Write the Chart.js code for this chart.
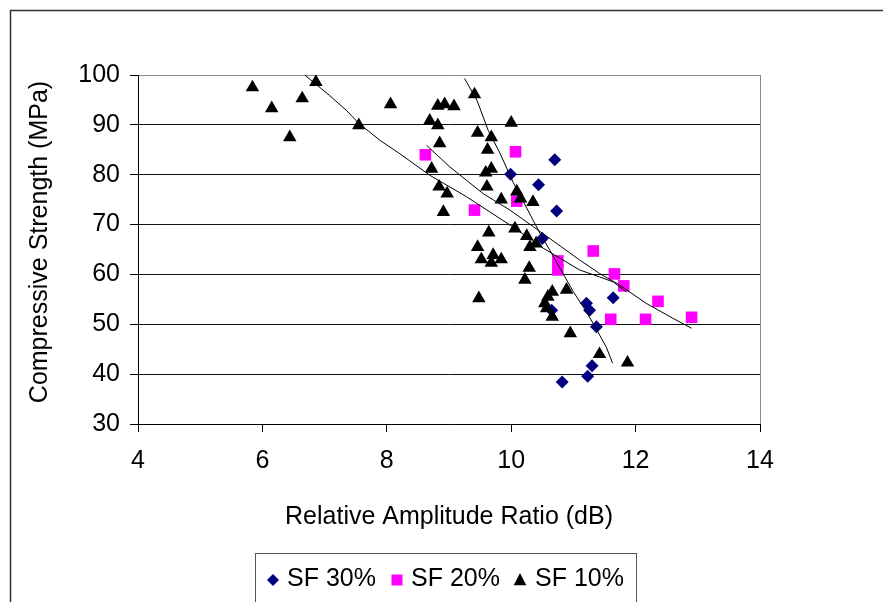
<!DOCTYPE html>
<html>
<head>
<meta charset="utf-8">
<script src="https://cdn.jsdelivr.net/npm/chart.js"></script>
<style>
  html, body { margin: 0; padding: 0; background: #fff; }
  canvas { display: block; }
</style>
</head>
<body>
<canvas id="myChart" width="883" height="602"></canvas>
<script>
const FONT = 'Arial, "Liberation Sans", sans-serif';

const xTicks = [4, 6, 8, 10, 12, 14];
const yTicks = [30, 40, 50, 60, 70, 80, 90, 100];

const seriesNames = ["SF 30%", "SF 20%", "SF 10%"];

// [relative amplitude ratio (dB), compressive strength (MPa)]
const sf30 = [
  [10.70, 83.0], [9.99, 80.1], [10.44, 78.0], [10.73, 72.7], [10.50, 67.2],
  [11.21, 54.2], [11.26, 52.8], [11.64, 55.3], [11.37, 49.5], [10.65, 52.8],
  [11.30, 41.7], [11.23, 39.6], [10.82, 38.4]
];

const sf20 = [
  [8.62, 84.0], [9.41, 72.9], [10.07, 84.6], [10.09, 74.7], [10.75, 62.7],
  [10.75, 60.9], [11.32, 64.7], [11.66, 60.1], [11.81, 57.7], [12.36, 54.6],
  [11.60, 51.0], [12.16, 51.0], [12.90, 51.4]
];

const sf10 = [
  [5.84, 97.5], [6.15, 93.3], [6.44, 87.5], [6.64, 95.3], [6.86, 98.6],
  [7.55, 89.9], [8.06, 94.1], [8.69, 90.8], [8.82, 93.8], [8.93, 94.1],
  [9.08, 93.7], [8.82, 89.9], [8.85, 86.3], [8.72, 81.2], [8.84, 77.6],
  [8.97, 76.2], [8.91, 72.5], [9.41, 96.1], [9.46, 88.4], [9.68, 87.5],
  [9.62, 85.0], [9.59, 80.4], [9.68, 81.2], [9.61, 77.6], [9.84, 75.0],
  [10.00, 90.4], [10.09, 76.6], [10.15, 75.2], [10.35, 74.5], [10.06, 69.2],
  [9.64, 68.4], [10.25, 67.7], [10.30, 65.5], [10.40, 66.2], [9.46, 65.5],
  [9.52, 63.0], [9.68, 62.3], [9.71, 63.9], [9.84, 63.0], [10.29, 61.3],
  [10.22, 58.9], [9.48, 55.2], [10.66, 56.5], [10.59, 55.5], [10.89, 56.9],
  [10.54, 54.2], [10.57, 53.2], [10.66, 51.5], [10.95, 48.2], [11.42, 44.0],
  [11.87, 42.3]
];

// fitted trend curves
const trend30 = [
  [9.25, 99.3], [9.45, 94.9], [9.63, 88.9], [9.82, 84.3], [10.03, 78.5],
  [10.20, 74.5], [10.46, 68.3], [10.67, 63.8], [10.85, 59.8], [11.00, 56.5],
  [11.21, 52.5], [11.37, 49.0], [11.53, 45.4], [11.63, 42.2]
];

const trend20 = [
  [8.64, 85.9], [9.01, 81.6], [9.55, 76.2], [9.98, 72.9], [10.51, 68.2],
  [11.10, 62.9], [11.42, 60.2], [11.74, 57.9], [12.17, 54.2], [12.60, 51.2],
  [12.90, 49.2]
];

const trend10 = [
  [6.68, 100.0], [7.08, 95.9], [7.35, 92.9], [7.55, 90.3], [7.89, 86.9],
  [8.21, 84.2], [8.69, 79.9], [9.28, 75.6], [9.98, 69.9], [10.51, 65.3],
  [11.10, 60.9], [11.42, 59.5], [11.64, 58.5], [11.85, 56.5]
];

const toPoints = (rows) => rows.map((r) => ({ x: r[0], y: r[1] }));

const markerStyles = [
  { pointStyle: "rectRot", color: "#000080", radius: 6.5 },
  { pointStyle: "rect", color: "#FF00FF", radius: 8.2 },
  { pointStyle: "triangle", color: "#000000", radius: 7.8 },
];

function trendSet(rows) {
  return {
    type: "scatter",
    data: toPoints(rows),
    showLine: true,
    borderColor: "#000",
    borderWidth: 1,
    pointRadius: 0,
    fill: false,
    order: 0,
  };
}

function markerSet(i, rows) {
  const m = markerStyles[i];
  return {
    label: seriesNames[i],
    data: toPoints(rows),
    showLine: false,
    pointStyle: m.pointStyle,
    pointRadius: m.radius,
    pointBackgroundColor: m.color,
    pointBorderColor: m.color,
    pointBorderWidth: 0,
    order: 3 - i,
  };
}

// draws a legend symbol the same shape as the chart markers
function drawSymbol(ctx, style, x, y, r) {
  ctx.beginPath();
  if (style === "rectRot") {
    ctx.moveTo(x - r, y);
    ctx.lineTo(x, y - r);
    ctx.lineTo(x + r, y);
    ctx.lineTo(x, y + r);
  } else if (style === "rect") {
    ctx.rect(x - r, y - r, 2 * r, 2 * r);
  } else {
    ctx.moveTo(x, y - r);
    ctx.lineTo(x + r * 0.9, y + r * 0.75);
    ctx.lineTo(x - r * 0.9, y + r * 0.75);
  }
  ctx.closePath();
  ctx.fill();
}

const framePlugin = {
  id: "frame",
  beforeDraw(chart) {
    const ctx = chart.ctx;
    ctx.save();
    ctx.fillStyle = "#fff";
    ctx.fillRect(0, 0, chart.width, chart.height);
    ctx.strokeStyle = "#333";
    ctx.lineWidth = 1.5;
    ctx.beginPath();
    ctx.moveTo(10.5, chart.height);
    ctx.lineTo(10.5, 10.5);
    ctx.lineTo(chart.width, 10.5);
    ctx.stroke();
    ctx.restore();
  },
  afterDraw(chart) {
    const ctx = chart.ctx;
    ctx.save();
    ctx.fillStyle = "#000";
    ctx.font = "25px " + FONT;
    ctx.textAlign = "center";
    ctx.textBaseline = "alphabetic";
    ctx.fillText("Relative Amplitude Ratio (dB)", 449, 524);

    ctx.translate(46.5, 242);
    ctx.rotate(-Math.PI / 2);
    ctx.fillText("Compressive Strength (MPa)", 0, 0);
    ctx.restore();

    // legend box
    ctx.save();
    ctx.strokeStyle = "#555";
    ctx.lineWidth = 1;
    ctx.strokeRect(255.5, 553.5, 381, 60);
    const symX = [273, 397, 520];
    const textX = [287, 411, 535];
    const symR = [6, 5.5, 7];
    ctx.font = "25px " + FONT;
    ctx.textAlign = "left";
    ctx.textBaseline = "alphabetic";
    for (let i = 0; i < 3; i++) {
      ctx.fillStyle = markerStyles[i].color;
      drawSymbol(ctx, markerStyles[i].pointStyle, symX[i], 580, symR[i]);
      ctx.fillStyle = "#000";
      ctx.fillText(seriesNames[i], textX[i], 586);
    }
    ctx.restore();
  },
};

const config = {
  type: "scatter",
  data: {
    datasets: [
      trendSet(trend30),
      trendSet(trend20),
      trendSet(trend10),
      markerSet(0, sf30),
      markerSet(1, sf20),
      markerSet(2, sf10),
    ],
  },
  options: {
    responsive: false,
    animation: false,
    layout: { padding: { left: 0, top: 75, right: 123, bottom: 0 } },
    plugins: {
      legend: { display: false },
      tooltip: { enabled: false },
    },
    scales: {
      x: {
        type: "linear",
        min: 4,
        max: 14,
        afterFit: (scale) => { scale.height = 178; },
        afterBuildTicks: (scale) => { scale.ticks = xTicks.map((v) => ({ value: v })); },
        border: { color: "#000", width: 1 },
        grid: {
          color: (c) => (c.tick && c.tick.value === 14 ? "#8a8a8a" : "rgba(0,0,0,0)"),
          tickColor: "#000",
          tickLength: 8,
        },
        ticks: {
          color: "#000",
          padding: 14,
          font: { family: FONT, size: 25 },
        },
      },
      y: {
        type: "linear",
        min: 30,
        max: 100,
        afterFit: (scale) => { scale.width = 138; },
        afterBuildTicks: (scale) => { scale.ticks = yTicks.map((v) => ({ value: v })); },
        border: { color: "#000", width: 1 },
        grid: {
          color: (c) => (c.tick && c.tick.value === 100 ? "#8a8a8a" : "#111"),
          tickColor: "#000",
          tickLength: 8,
        },
        ticks: {
          color: "#000",
          padding: 10,
          font: { family: FONT, size: 25 },
        },
      },
    },
  },
  plugins: [framePlugin],
};

const myChart = new Chart(document.getElementById("myChart"), config);
</script>
</body>
</html>
